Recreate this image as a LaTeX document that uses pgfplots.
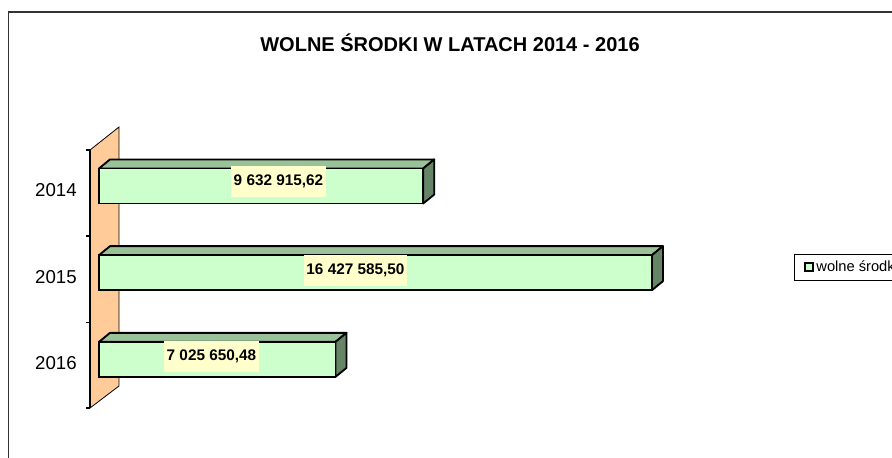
\documentclass[border=0pt]{standalone}
\usepackage{pgfplots}
\pgfplotsset{compat=1.18}
\usepackage{fontspec}
\setmainfont{Liberation Sans}
\definecolor{frontgreen}{HTML}{CCFFCC}
\definecolor{topgreen}{HTML}{99C299}
\definecolor{sidegreen}{HTML}{668566}
\definecolor{wallorange}{HTML}{FFCC99}
\definecolor{labelyellow}{HTML}{FFFFCC}
\begin{document}
\begin{tikzpicture}
\clip (0,0) rectangle (669pt,342.75pt);
\begin{axis}[at={(0,0)}, anchor=south west, scale only axis,
  width=669pt, height=342.75pt,
  xmin=-2.941, xmax=23.559, ymin=-2.145, ymax=3.126, y dir=reverse,
  axis lines=none, clip=false,
  legend style={at={(axis cs:20.648,0.784)}, anchor=north west, draw=black, line width=0.6pt,
    inner xsep=7pt, inner ysep=3pt, font=\fontsize{11}{13}\selectfont},
  legend image code/.code={\draw[fill=frontgreen, draw=black, line width=1.5pt] (0pt,-3pt) rectangle (6pt,3pt);},
]
% wall
\addplot[forget plot, fill=wallorange, draw=black, line width=0.6pt] coordinates {(-0.267,-0.415) (0.594,-0.680) (0.594,2.307) (-0.267,2.561)} --cycle;
\addplot[forget plot, black, line width=1.2pt] coordinates {(-0.267,-0.415) (-0.267,2.561)};
\addplot[forget plot, black, line width=0.8pt] coordinates {(-0.267,-0.415) (-0.386,-0.415)};
\addplot[forget plot, black, line width=0.8pt] coordinates {(-0.267,0.577) (-0.386,0.577)};
\addplot[forget plot, black, line width=0.8pt] coordinates {(-0.267,1.580) (-0.386,1.580)};
\addplot[forget plot, black, line width=0.8pt] coordinates {(-0.267,2.561) (-0.386,2.561)};
% top faces
\addplot[forget plot, fill=topgreen, draw=black, line width=1.4pt, line join=round] coordinates {(0,-0.202) (9.6329,-0.202) (9.9599,-0.306) (0.327,-0.306)} --cycle;
\addplot[forget plot, fill=topgreen, draw=black, line width=1.4pt, line join=round] coordinates {(0,0.798) (16.4276,0.798) (16.7546,0.694) (0.327,0.694)} --cycle;
\addplot[forget plot, fill=topgreen, draw=black, line width=1.4pt, line join=round] coordinates {(0,1.798) (7.0257,1.798) (7.3527,1.694) (0.327,1.694)} --cycle;
% side faces
\addplot[forget plot, fill=sidegreen, draw=black, line width=1.4pt, line join=round] coordinates {(9.6329,-0.202) (9.9599,-0.306) (9.9599,0.098) (9.6329,0.202)} --cycle;
\addplot[forget plot, fill=sidegreen, draw=black, line width=1.4pt, line join=round] coordinates {(16.4276,0.798) (16.7546,0.694) (16.7546,1.098) (16.4276,1.202)} --cycle;
\addplot[forget plot, fill=sidegreen, draw=black, line width=1.4pt, line join=round] coordinates {(7.0257,1.798) (7.3527,1.694) (7.3527,2.098) (7.0257,2.202)} --cycle;
% front faces
\addplot[xbar, bar width=0.404, bar shift=0pt, fill=frontgreen, draw=black, line width=1.4pt] coordinates {(9.6329,0) (16.4276,1) (7.0257,2)};
\addlegendentry{wolne środki}
% value labels
\node[fill=labelyellow, inner xsep=2pt, inner ysep=0pt, minimum height=23pt, font=\bfseries\fontsize{11.5}{13}\selectfont] at (axis cs:5.333,-0.052) {9 632 915,62};
\node[fill=labelyellow, inner xsep=2pt, inner ysep=0pt, minimum height=23pt, font=\bfseries\fontsize{11.5}{13}\selectfont] at (axis cs:7.620,0.975) {16 427 585,50};
\node[fill=labelyellow, inner xsep=2pt, inner ysep=0pt, minimum height=23pt, font=\bfseries\fontsize{11.5}{13}\selectfont] at (axis cs:3.342,1.967) {7 025 650,48};
% category labels
\node[anchor=east, inner sep=0pt, font=\fontsize{14}{17}\selectfont] at (axis cs:-0.654,0.045) {2014};
\node[anchor=east, inner sep=0pt, font=\fontsize{14}{17}\selectfont] at (axis cs:-0.654,1.045) {2015};
\node[anchor=east, inner sep=0pt, font=\fontsize{14}{17}\selectfont] at (axis cs:-0.654,2.045) {2016};
\end{axis}
% outer frame
\draw[black!80, line width=1.1pt] (6.4pt,-5pt) -- (6.4pt,333.75pt) -- (700pt,333.75pt);
% title
\node[font=\bfseries\fontsize{15}{18}\selectfont] at (337.5pt,310.5pt) {WOLNE ŚRODKI W LATACH 2014 - 2016};
\end{tikzpicture}
\end{document}
